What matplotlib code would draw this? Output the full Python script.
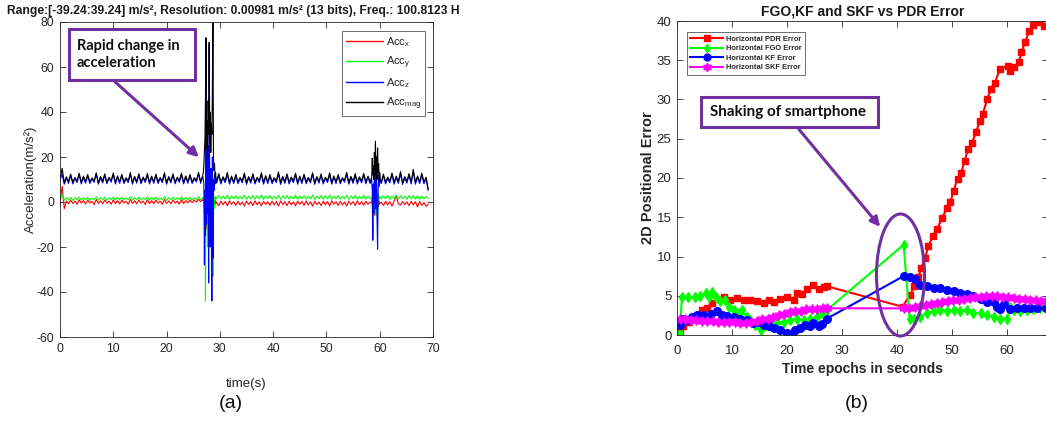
import numpy as np
import matplotlib
matplotlib.use("Agg")
import matplotlib.pyplot as plt
from matplotlib.patches import Rectangle, Ellipse, FancyArrowPatch

W, H = 1046, 424
plt.rcParams['font.family'] = ['Liberation Sans', 'DejaVu Sans']
plt.rcParams['mathtext.default'] = 'regular'
plt.rcParams['axes.unicode_minus'] = False

# ---------------- Panel (a) data: accelerometer ----------------
# segment start times (s) and sample steps
segA_start, segA_step = 0.0, 0.4
sp1_start, sp1_step = 26.9, 0.1
segB_start, segB_step = 29.4, 0.4
sp2_start, sp2_step = 58.5, 0.1
segC_start, segC_step = 60.3, 0.4

acc_mag_A = [9.8, 15.0, 8.6, 11.2, 9.0, 12.4, 8.8, 10.9, 9.3, 12.8,
             8.7, 11.5, 9.1, 12.2, 8.9, 10.7, 9.4, 13.0, 8.6, 11.3,
             9.2, 12.5, 8.8, 11.0, 9.5, 12.9, 8.7, 11.6, 9.0, 12.3,
             8.9, 10.8, 9.3, 13.1, 8.6, 11.4, 9.1, 12.6, 8.8, 11.1,
             9.4, 12.7, 8.7, 11.5, 9.0, 12.4, 8.9, 10.9, 9.3, 13.0,
             8.6, 11.3, 9.2, 12.5, 8.8, 11.0, 9.5, 12.8, 8.7, 11.6,
             9.0, 12.2, 8.9, 10.8, 9.6, 13.2, 9.0, 12.0]
acc_mag_S1 = [13, 17, 22, 28, 46, 73, 24, 36, 20, 45, 30, 71, 26, 40, 22,
              35, 30, 50, 82, 20, 14, 17, 11, 13, 9.5]
acc_mag_B = [9.2, 12.6, 8.8, 11.2, 9.4, 13.1, 8.7, 11.5, 9.0, 12.3,
             8.9, 10.9, 9.3, 12.9, 8.6, 11.3, 9.2, 12.6, 8.8, 11.0,
             9.5, 13.0, 8.7, 11.7, 9.0, 12.2, 8.9, 10.8, 9.4, 13.4,
             8.6, 11.4, 9.1, 12.5, 8.8, 11.1, 9.4, 12.8, 8.7, 11.5,
             9.0, 12.4, 8.9, 10.9, 9.3, 13.0, 8.6, 11.3, 9.2, 12.5,
             8.8, 11.0, 9.5, 12.9, 8.7, 11.6, 9.0, 12.2, 8.9, 10.8,
             9.6, 13.2, 8.7, 11.4, 9.1, 12.6, 8.8, 11.2, 9.3, 12.7,
             8.9, 11.5, 9.0]
acc_mag_S2 = [11, 19.5, 12, 16, 10, 22, 14, 27, 12, 20, 10, 24, 13, 17, 9, 13, 10]
acc_mag_C = [9.0, 12.4, 8.8, 11.1, 9.3, 12.9, 8.7, 11.5, 9.1, 13.5, 8.6, 11.3,
             9.2, 12.6, 8.8, 14.5, 8.7, 11.6, 9.0, 12.8, 8.9, 11.0, 5.8]

acc_z_A = [9.5, 12.5, 7.9, 10.6, 8.3, 11.8, 8.0, 10.4, 8.6, 12.1,
           8.0, 10.9, 8.4, 11.6, 8.2, 10.2, 8.7, 12.3, 7.9, 10.8,
           8.5, 11.9, 8.1, 10.5, 8.8, 12.2, 8.0, 11.0, 8.3, 11.7,
           8.2, 10.3, 8.6, 12.4, 7.9, 10.9, 8.4, 12.0, 8.1, 10.6,
           8.7, 12.0, 8.0, 10.9, 8.3, 11.8, 8.2, 10.4, 8.6, 12.3,
           7.9, 10.8, 8.5, 11.9, 8.1, 10.5, 8.8, 12.1, 8.0, 11.0,
           8.3, 11.6, 8.2, 10.3, 8.9, 12.5, 8.3, 11.4]
acc_z_S1 = [10, 8, -28, 5, -15, 65, -10, 20, -5, 25, -36, 70, 5, -20, 15,
            -10, -44, 20, -25, 10, 5, 12, 8, 11, 9]
acc_z_B = [8.4, 11.8, 8.0, 10.7, 8.6, 12.3, 7.9, 10.9, 8.2, 11.6,
           8.1, 10.4, 8.5, 12.1, 7.8, 10.8, 8.4, 11.9, 8.0, 10.5,
           8.7, 12.2, 7.9, 11.1, 8.2, 11.5, 8.1, 10.3, 8.6, 12.6,
           7.8, 10.9, 8.3, 11.8, 8.0, 10.6, 8.6, 12.0, 7.9, 11.0,
           8.2, 11.7, 8.1, 10.4, 8.5, 12.2, 7.8, 10.8, 8.4, 11.8,
           8.0, 10.5, 8.7, 12.1, 7.9, 11.0, 8.2, 11.5, 8.1, 10.3,
           8.8, 12.4, 7.9, 10.9, 8.3, 11.9, 8.0, 10.7, 8.5, 12.0,
           8.1, 11.0, 8.2]
acc_z_S2 = [10, 5, -17, 8, -5, 15, 0, 20, -3, 10, -8, -21, 5, 12, 7, 11, 9]
acc_z_C = [8.2, 11.6, 8.0, 10.4, 8.5, 12.1, 7.9, 10.8, 8.3, 12.5, 7.8, 10.6,
           8.4, 11.8, 8.0, 13.5, 7.9, 10.9, 8.2, 12.0, 8.1, 10.3, 5.2]

acc_y_A = [2.5, 3.2, 0.8, 1.9, 0.9, 2.1, 0.7, 1.8, 1.0, 2.2,
           0.8, 1.9, 1.0, 2.0, 0.7, 1.7, 1.1, 2.3, 0.8, 1.9,
           1.0, 2.1, 0.8, 1.8, 1.1, 2.2, 0.9, 2.0, 1.0, 2.1,
           0.8, 1.7, 1.0, 2.3, 0.8, 1.9, 1.0, 2.1, 0.9, 1.8,
           1.1, 2.2, 0.8, 2.0, 1.0, 2.1, 0.9, 1.7, 1.0, 2.3,
           0.8, 1.9, 1.1, 2.1, 0.9, 1.8, 1.1, 2.2, 0.8, 2.0,
           1.0, 2.1, 0.9, 1.7, 1.1, 2.3, 1.0, 2.0]
acc_y_S1 = [1.5, 0, -5, 3, -44, 5, -10, 8, -20, 4, -8, 6, -15, 3, -5,
            2, -12, 5, -33, 4, -3, 2, 1, 2.5, 1.8]
acc_y_B = [1.5, 2.9, 1.3, 2.6, 1.4, 3.0, 1.2, 2.7, 1.5, 2.8,
           1.3, 2.5, 1.4, 3.0, 1.2, 2.6, 1.5, 2.9, 1.3, 2.7,
           1.4, 3.1, 1.2, 2.6, 1.5, 2.8, 1.3, 2.5, 1.4, 3.0,
           1.2, 2.7, 1.5, 2.9, 1.3, 2.6, 1.4, 3.0, 1.2, 2.7,
           1.5, 2.8, 1.3, 2.5, 1.4, 3.1, 1.2, 2.6, 1.5, 2.9,
           1.3, 2.7, 1.4, 3.0, 1.2, 2.6, 1.5, 2.8, 1.3, 2.5,
           1.4, 3.0, 1.2, 2.7, 1.5, 2.9, 1.3, 2.6, 1.4, 3.0,
           1.2, 2.7, 1.5]
acc_y_S2 = [2, 0, -15, 3, -4, 5, -2, 4, -6, 3, -1, -8, 4, 2, 1.5, 2.5, 2]
acc_y_C = [1.3, 2.7, 1.5, 2.9, 1.2, 2.6, 1.4, 3.0, 1.3, 2.8, 1.5, 2.5,
           1.2, 2.9, 1.4, 2.7, 1.3, 2.8, 1.2, 2.6, 1.4, 2.5, 1.6]

acc_x_A = [-1.0, 7.0, -3.0, 0.5, -0.8, 0.9, -0.6, 0.4, -1.0, 1.0,
           -0.5, 0.6, -0.9, 0.8, -0.4, 0.3, -1.1, 1.1, -0.6, 0.5,
           -0.8, 0.9, -0.5, 0.4, -1.0, 1.0, -0.7, 0.6, -0.9, 0.8,
           -0.4, 0.3, -1.0, 1.1, -0.6, 0.5, -0.8, 0.9, -0.5, 0.4,
           -1.1, 1.0, -0.7, 0.6, -0.8, 0.8, -0.4, 0.3, -1.0, 1.1,
           -0.6, 0.5, -0.8, 0.9, -0.5, 0.4, -0.9, 1.0, -0.7, 0.6,
           -0.3, 0.9, -0.2, 0.8, 0.0, 1.2, 0.2, 1.0]
acc_x_S1 = [0.5, 2, -2, 5, -8, 8, -12, 6, -4, 3, -6, 4, -3, 9, -5,
            12, -3, 2, -6, 3, -2, 1, -1, 0.5, -0.5]
acc_x_B = [-0.3, -1.6, 0.4, -1.2, 0.2, -1.7, 0.5, -1.0, 0.1, -1.5,
           0.3, -1.3, 0.0, -1.8, 0.4, -1.1, 0.2, -1.6, 0.5, -1.2,
           0.1, -1.7, 0.3, -1.0, 0.0, -1.5, 0.4, -1.3, 0.2, -1.8,
           0.5, -1.1, 0.1, -1.6, 0.3, -1.2, 0.0, -1.7, 0.4, -1.0,
           0.2, -1.5, 0.5, -1.3, 0.1, -1.8, 0.3, -1.1, 0.0, -1.6,
           0.4, -1.2, 0.2, -1.7, 0.5, -1.0, 0.1, -1.5, 0.3, -1.3,
           0.0, -1.8, 0.4, -1.1, 0.2, -1.6, 0.5, -1.2, 0.1, -1.4,
           0.3, -1.0, 0.0]
acc_x_S2 = [-0.5, 1, -3, 2, -6, 4, -2, 3, -5, 6, -3, 2, -2, 1, -1, 0, -0.5]
acc_x_C = [-0.2, -1.5, 0.3, -1.2, 0.1, -1.8, 0.4, 2.8, -0.8, -1.4, 0.2, -1.1,
           0.0, -1.6, 0.3, -1.3, 0.1, -2.2, 0.2, -1.5, -0.3, -1.9, -1.0]

a_labels = [r'Acc$_\mathregular{x}$', r'Acc$_\mathregular{y}$',
            r'Acc$_\mathregular{z}$', r'Acc$_\mathregular{mag}$']
a_colors = ['#ff0000', '#00ff00', '#0000ff', '#000000']
a_xticks = [0, 10, 20, 30, 40, 50, 60, 70]
a_yticks = [-60, -40, -20, 0, 20, 40, 60, 80]

# ---------------- Panel (b) data: positional errors ----------------
pdr_t = [0.5, 1.0, 2.1, 3.3, 4.5, 5.5, 6.4, 7.6, 8.5, 9.7, 10.9, 12.1, 13.3, 14.5,
         15.8, 16.7, 17.6, 18.8, 20.0, 21.2, 21.8, 22.7, 23.6, 24.8, 25.8, 26.7,
         27.3, 41.0, 42.4, 43.1, 43.9, 44.4, 45.1, 45.7, 46.5, 47.3, 48.2, 49.1,
         49.7, 50.3, 51.0, 51.7, 52.3, 52.9, 53.6, 54.4, 55.0, 55.6, 56.4, 57.1,
         57.8, 58.7, 60.1, 60.6, 61.3, 62.2, 62.6, 63.3, 64.0, 64.7, 65.5, 66.0,
         66.7]
pdr_v = [0.5, 1.1, 1.7, 2.3, 3.2, 3.5, 4.1, 4.6, 4.8, 4.4, 4.7, 4.5, 4.5, 4.3,
         4.1, 4.4, 4.2, 4.6, 4.8, 4.5, 5.4, 5.2, 5.9, 6.4, 5.9, 6.1, 6.2, 3.6,
         5.1, 6.2, 7.4, 8.5, 9.8, 11.3, 12.6, 13.5, 14.9, 16.2, 16.9, 18.4, 19.9,
         20.7, 22.2, 23.7, 24.4, 25.9, 27.2, 28.2, 30.0, 31.4, 32.1, 33.9, 34.3,
         33.6, 34.1, 34.8, 36.0, 37.3, 38.7, 39.5, 39.9, 40.0, 39.4]

fgo_t = [0.5, 0.9, 2.0, 3.3, 4.2, 5.2, 5.8, 6.4, 7.0, 7.9, 8.8, 9.4, 10.3, 11.2,
         11.8, 12.7, 13.3, 14.2, 15.2, 16.1, 17.0, 18.2, 19.4, 20.6, 21.8, 23.0,
         24.2, 25.5, 26.4, 27.3, 41.2, 42.3, 43.0, 44.2, 45.5, 46.7, 47.9, 49.1,
         50.3, 51.5, 52.7, 53.9, 55.2, 56.4, 57.6, 58.8, 60.0, 60.6, 61.2, 62.4,
         63.6, 64.8, 66.0, 67.0]
fgo_v = [0.2, 4.8, 4.8, 4.8, 5.0, 5.4, 4.9, 5.5, 4.9, 4.3, 4.5, 3.6, 3.2, 2.8,
         3.2, 2.3, 1.9, 1.3, 0.6, 1.3, 1.1, 1.5, 1.7, 1.9, 2.0, 1.9, 2.1, 2.3,
         2.8, 3.2, 11.5, 2.1, 2.1, 2.3, 2.8, 3.0, 3.2, 3.1, 3.2, 3.0, 3.2, 2.8,
         2.8, 2.6, 2.3, 2.1, 2.1, 3.6, 3.2, 3.0, 3.2, 3.3, 3.4, 3.5]

kf_t = [0.5, 0.9, 1.8, 2.7, 3.6, 4.8, 6.1, 7.3, 8.2, 9.1, 10.3, 11.5, 12.7, 13.9,
        14.8, 15.8, 16.7, 17.6, 18.8, 20.0, 20.9, 21.5, 22.4, 23.3, 24.2, 24.8,
        25.8, 26.4, 27.3, 41.2, 42.4, 43.3, 44.2, 45.5, 46.7, 47.9, 49.1, 50.3,
        51.5, 52.7, 53.9, 55.2, 56.4, 57.6, 58.2, 58.8, 59.4, 60.6, 61.8, 63.0,
        64.2, 65.5, 67.0]
kf_v = [1.3, 2.1, 1.9, 2.3, 2.6, 2.6, 2.7, 3.0, 2.6, 2.4, 2.3, 2.1, 1.9, 1.5,
        1.7, 1.3, 1.1, 0.9, 0.6, 0.2, 0.0, 0.6, 0.85, 1.3, 1.1, 1.5, 1.15, 1.4,
        2.1, 7.5, 7.4, 7.1, 6.4, 6.2, 6.0, 6.0, 5.7, 5.6, 5.4, 5.2, 5.0, 4.6,
        4.2, 4.2, 3.6, 3.3, 4.0, 3.3, 3.4, 3.4, 3.5, 3.4, 3.5]

skf_t = [0.5, 1.5, 2.5, 3.5, 4.5, 5.5, 6.5, 7.5, 8.5, 9.5, 10.5, 11.5, 12.5, 13.5,
         14.5, 15.5, 16.5, 17.5, 18.5, 19.5, 20.5, 21.5, 22.5, 23.5, 24.5, 25.5,
         26.5, 27.3, 41.2, 42.2, 43.2, 44.2, 45.2, 46.2, 47.2, 48.2, 49.2, 50.2,
         51.2, 52.2, 53.2, 54.2, 55.2, 56.2, 57.2, 58.2, 59.2, 60.2, 61.2, 62.2,
         63.2, 64.2, 65.2, 66.2, 67.0]
skf_v = [2.1, 2.0, 1.9, 1.9, 1.8, 1.8, 1.8, 1.7, 1.7, 1.7, 1.6, 1.5, 1.5, 1.6,
         1.8, 2.0, 2.1, 2.3, 2.5, 2.7, 2.9, 3.0, 3.1, 3.3, 3.3, 3.3, 3.4, 3.4,
         3.4, 3.5, 3.6, 3.7, 3.8, 3.9, 4.1, 4.2, 4.3, 4.4, 4.5, 4.6, 4.7, 4.8,
         4.9, 5.0, 5.0, 5.0, 4.9, 4.8, 4.7, 4.6, 4.6, 4.5, 4.4, 4.3, 4.3]

b_labels = ['Horizontal PDR Error', 'Horizontal FGO Error',
            'Horizontal KF Error', 'Horizontal SKF Error']
b_colors = ['#ff0000', '#00ff00', '#0000ff', '#ff00ff']
b_xticks = [0, 10, 20, 30, 40, 50, 60]
b_yticks = [0, 5, 10, 15, 20, 25, 30, 35, 40]


def seg_times(start, step, n):
    return start + step * np.arange(n)


def build(segs):
    starts = [(segA_start, segA_step), (sp1_start, sp1_step), (segB_start, segB_step),
              (sp2_start, sp2_step), (segC_start, segC_step)]
    ts, vs = [], []
    for (s, st), v in zip(starts, segs):
        ts.append(seg_times(s, st, len(v)))
        vs.append(np.asarray(v, float))
    return np.concatenate(ts), np.concatenate(vs)


fig = plt.figure(figsize=(W / 100, H / 100), dpi=100)
fig.patch.set_facecolor('white')

AXC = '#262626'


def style_axes(ax, fs):
    for s in ax.spines.values():
        s.set_color(AXC)
        s.set_linewidth(0.6)
    ax.tick_params(direction='in', length=4, width=0.6, colors=AXC,
                   labelsize=fs, top=True, right=True, pad=4)


# -------- left panel
axa = fig.add_axes([60 / W, 1 - 337 / H, 373 / W, 315 / H])
series_a = [
    build([acc_x_A, acc_x_S1, acc_x_B, acc_x_S2, acc_x_C]),
    build([acc_y_A, acc_y_S1, acc_y_B, acc_y_S2, acc_y_C]),
    build([acc_z_A, acc_z_S1, acc_z_B, acc_z_S2, acc_z_C]),
    build([acc_mag_A, acc_mag_S1, acc_mag_B, acc_mag_S2, acc_mag_C]),
]
for (t, v), c, lab in zip(series_a, a_colors, a_labels):
    axa.plot(t, v, color=c, lw=0.8, label=lab)
axa.set_xlim(0, 70)
axa.set_ylim(-60, 80)
axa.set_xticks(a_xticks)
axa.set_yticks(a_yticks)
style_axes(axa, 8.7)
axa.set_xlabel('time(s)', fontsize=9.5, color=AXC, labelpad=17)
axa.set_ylabel('Acceleration(m/s²)', fontsize=9.5, color=AXC, labelpad=0)
lega = axa.legend(loc='upper right', bbox_to_anchor=((425 - 60) / 373, (337 - 31) / 315),
                  fontsize=8, frameon=True, fancybox=False, framealpha=1,
                  edgecolor='#555555', handlelength=3.3, labelspacing=0.5,
                  borderpad=0.35, handletextpad=0.25, borderaxespad=0)
lega.get_frame().set_linewidth(0.6)
for ln in lega.get_lines():
    ln.set_linewidth(1.0)
for txt in lega.get_texts():
    txt.set_color(AXC)

fig.text(7 / W, 1 - 11 / H,
         'Range:[-39.24:39.24] m/s², Resolution: 0.00981 m/s² (13 bits), Freq.: 100.8123 H',
         ha='left', va='center', fontsize=8.7, fontweight='bold', color='#1a1a1a')

# -------- right panel
axb = fig.add_axes([677 / W, 1 - 335 / H, (1048 - 677) / W, 314 / H])
markers = ['s', 'd', 'o', (6, 1, 0)]
msizes = [4.5, 5, 5.5, 7]
series_b = [(pdr_t, pdr_v), (fgo_t, fgo_v), (kf_t, kf_v), (skf_t, skf_v)]
for (t, v), c, lab, m, ms in zip(series_b, b_colors, b_labels, markers, msizes):
    axb.plot(t, v, color=c, lw=1.5, marker=m, ms=ms, mfc=c, mec=c, label=lab)
axb.set_xlim(0, (1048 - 677) / 5.5)
axb.set_ylim(0, 40)
axb.set_xticks(b_xticks)
axb.set_yticks(b_yticks)
style_axes(axb, 9.5)
axb.tick_params(axis='x', pad=7)
axb.set_title('FGO,KF and SKF vs PDR Error', fontsize=10, fontweight='bold',
              color='#1a1a1a', pad=4)
axb.set_xlabel('Time epochs in seconds', fontsize=10, fontweight='bold', color=AXC, labelpad=4)
axb.set_ylabel('2D Positional Error', fontsize=10.5, fontweight='bold', color=AXC, labelpad=1)
legb = axb.legend(loc='upper left', bbox_to_anchor=((686.7 - 677) / 371, (335 - 31.7) / 314),
                  prop={'size': 5.4, 'weight': 'bold'}, frameon=True, fancybox=False,
                  framealpha=1, edgecolor='#555555', handlelength=4.4,
                  labelspacing=0.3, borderpad=0.5, handletextpad=0.3, borderaxespad=0,
                  markerscale=0.9)
legb.get_frame().set_linewidth(0.6)
for txt in legb.get_texts():
    txt.set_color(AXC)

# -------- annotations (figure pixel coordinates)
PURPLE = '#7030a0'


def fx(x):
    return x / W


def fy(y):
    return 1 - y / H


fig.add_artist(Rectangle((fx(69), fy(80)), fx(195) - fx(69), fy(29) - fy(80),
                         transform=fig.transFigure, fill=True, fc='white',
                         ec=PURPLE, lw=2.2, zorder=10))
fig.text(fx(77), fy(54.5), 'Rapid change in\nacceleration', ha='left', va='center',
         fontsize=10.5, fontweight='bold', family=['Lato', 'DejaVu Sans'],
         color='#111111', linespacing=1.35, zorder=11)
fig.add_artist(FancyArrowPatch((fx(113), fy(80)), (fx(201), fy(159)),
                               transform=fig.transFigure, arrowstyle='-|>',
                               mutation_scale=14, lw=2.2, color=PURPLE, zorder=10))

fig.add_artist(Rectangle((fx(701), fy(127)), fx(878) - fx(701), fy(97) - fy(127),
                         transform=fig.transFigure, fill=True, fc='white',
                         ec=PURPLE, lw=2.2, zorder=10))
fig.text(fx(710), fy(112), 'Shaking of smartphone', ha='left', va='center',
         fontsize=11, fontweight='bold', family=['Lato', 'DejaVu Sans'],
         color='#111111', zorder=11)
fig.add_artist(FancyArrowPatch((fx(797), fy(127)), (fx(882), fy(229)),
                               transform=fig.transFigure, arrowstyle='-|>',
                               mutation_scale=14, lw=2.2, color=PURPLE, zorder=10))
fig.add_artist(Ellipse((fx(900.5), fy(275)), fx(48), 122 / H,
                       transform=fig.transFigure, fill=False, ec=PURPLE, lw=2.2, zorder=10))

fig.text(fx(231), fy(404), '(a)', ha='center', va='center', fontsize=14, color='#111111')
fig.text(fx(857), fy(404), '(b)', ha='center', va='center', fontsize=14, color='#111111')

fig.savefig('out.png', dpi=100, facecolor='white')
